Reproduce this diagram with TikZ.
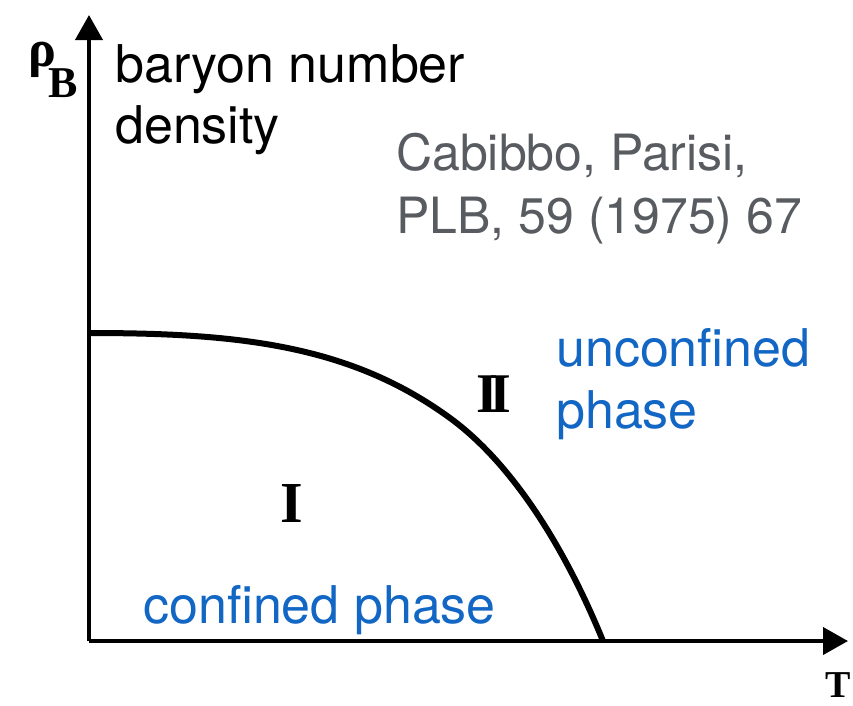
\documentclass[tikz,border=0pt]{standalone}
\usepackage{fontspec}
\setmainfont{TeX Gyre Heros}
\newfontfamily\oldserif{Liberation Serif}
\usetikzlibrary{arrows.meta}
\definecolor{phaseblue}{RGB}{18,102,196}
\definecolor{refgray}{RGB}{88,92,96}
\tikzset{
  axisline/.style={line width=4pt, -{Triangle[length=25pt,width=27pt]}},
  boundary/.style={line width=6pt, line join=round},
  lbl/.style={inner sep=0pt, anchor=base west, font=\fontsize{52}{62}\selectfont},
  bluelbl/.style={lbl, text=phaseblue},
  graylbl/.style={lbl, text=refgray, font=\fontsize{50}{60}\selectfont},
  oldlbl/.style={inner sep=0pt, anchor=base west},
}
\begin{document}
\begin{tikzpicture}[x=1pt,y=-1pt]
\useasboundingbox (0,0) rectangle (853,705);
\coordinate (O) at (89,641);
\coordinate (ytip) at (89,15);
\coordinate (xtip) at (848,641);
\coordinate (c0) at (89,333);
\coordinate (c1) at (450,418);
\coordinate (c2) at (603,641);
\draw[axisline] (O) -- (ytip);
\draw[axisline] (O) -- (xtip);
\draw[boundary] (c0) .. controls (239,333) and (350,345) .. (c1)
                     .. controls (510,461.8) and (563,543) .. (c2);
% axis labels
\node[oldlbl, font=\oldserif\bfseries\fontsize{52}{52}\selectfont] (rhoB) at (28,66)
  {ρ\kern-8pt\raisebox{-31pt}{\fontsize{44}{44}\selectfont B}};
\node[oldlbl, font=\oldserif\bfseries\fontsize{38}{38}\selectfont] (T) at (825,697) {T};
% region labels
\node[oldlbl, font=\oldserif\bfseries\fontsize{58}{58}\selectfont] (I) at (280,522) {I};
\node[oldlbl, font=\oldserif\bfseries\fontsize{56}{56}\selectfont] (II) at (476,412) {I\kern-9pt I};
% texts
\node[lbl] (bar1) at (115,82) {baryon number};
\node[lbl] (bar2) at (115,143) {density};
\node[graylbl] (cit1) at (396,170) {Cabibbo, Parisi,};
\node[graylbl] (cit2) at (396,233) {PLB, 59 (1975) 67};
\node[bluelbl] (unc1) at (556,366) {unconfined};
\node[bluelbl] (unc2) at (556,428) {phase};
\node[bluelbl] (conf) at (143,623) {confined phase};
\end{tikzpicture}
\end{document}
